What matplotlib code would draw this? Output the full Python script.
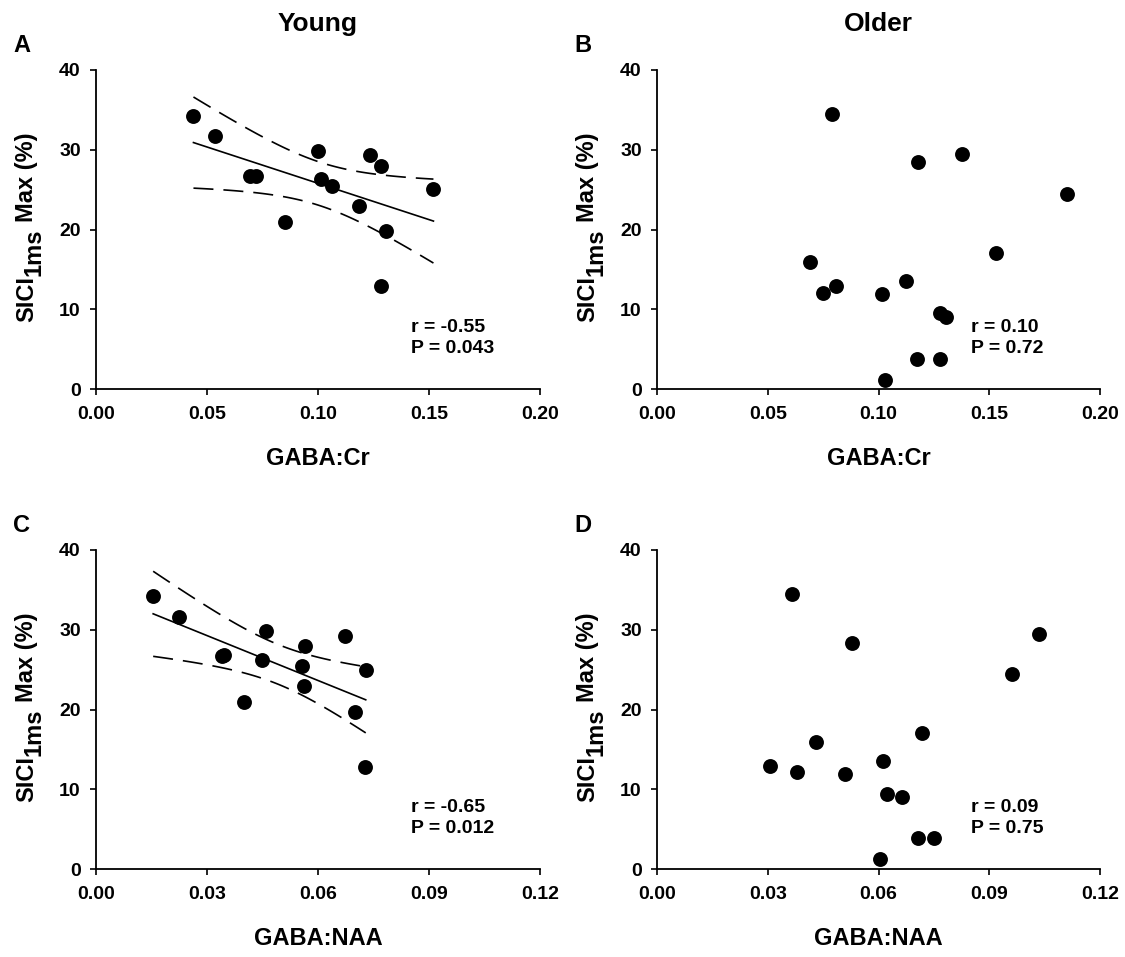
import numpy as np
import matplotlib
matplotlib.use("Agg")
import matplotlib.pyplot as plt

plt.rcParams['font.family'] = ['Liberation Sans', 'DejaVu Sans']
plt.rcParams['font.weight'] = 'bold'

# Panel A: Young, GABA:Cr
young_cr_x = [0.0439, 0.0536, 0.0692, 0.0719, 0.0853, 0.1002, 0.1014, 0.1062,
              0.1183, 0.1234, 0.1282, 0.1308, 0.1282, 0.1520]
young_cr_y = [34.2, 31.7, 26.75, 26.7, 21.0, 29.8, 26.3, 25.4,
              23.0, 29.3, 28.0, 19.8, 12.9, 25.1]
# Panel B: Older, GABA:Cr
older_cr_x = [0.0790, 0.0690, 0.0748, 0.0810, 0.1018, 0.1029, 0.1123, 0.1177,
              0.1174, 0.1279, 0.1279, 0.1306, 0.1376, 0.1529, 0.1852]
older_cr_y = [34.5, 15.9, 12.1, 12.9, 11.9, 1.1, 13.5, 28.5,
              3.8, 3.8, 9.5, 9.0, 29.5, 17.1, 24.5]
# Panel C: Young, GABA:NAA
young_naa_x = [0.01545, 0.0223, 0.0340, 0.0346, 0.0399, 0.0449, 0.0459, 0.0558,
               0.0565, 0.0563, 0.0673, 0.0700, 0.0729, 0.0727]
young_naa_y = [34.2, 31.6, 26.7, 26.8, 21.0, 26.2, 29.8, 25.4,
               27.9, 23.0, 29.25, 19.7, 25.0, 12.8]
# Panel D: Older, GABA:NAA
older_naa_x = [0.0367, 0.0307, 0.0379, 0.0431, 0.0509, 0.0528, 0.0611, 0.0603,
               0.0624, 0.0663, 0.0706, 0.0750, 0.0718, 0.0962, 0.1035]
older_naa_y = [34.5, 12.9, 12.2, 15.95, 11.95, 28.4, 13.5, 1.2,
               9.4, 9.0, 3.9, 3.9, 17.1, 24.5, 29.5]

r_text = ["r = -0.55", "r = 0.10", "r = -0.65", "r = 0.09"]
p_text = ["P = 0.043", "P = 0.72", "P = 0.012", "P = 0.75"]
panel_letters = ["A", "B", "C", "D"]
col_titles = ["Young", "Older"]
x_labels = ["GABA:Cr", "GABA:Cr", "GABA:NAA", "GABA:NAA"]
y_label_parts = ["SICI", "1ms", "Max (%)"]
xticks_cr = [0.00, 0.05, 0.10, 0.15, 0.20]
xticks_naa = [0.00, 0.03, 0.06, 0.09, 0.12]
yticks = [0, 10, 20, 30, 40]

W, H = 1125, 957
fig = plt.figure(figsize=(W / 100, H / 100), dpi=100)
renderer = fig.canvas.get_renderer()

# axes rectangles in pixels: left, right, top, bottom (top-based y)
rects = [
    (96, 540, 70, 389),
    (657, 1100, 70, 389),
    (96, 540, 550, 869),
    (657, 1100, 550, 869),
]
datasets = [
    (young_cr_x, young_cr_y, True, xticks_cr),
    (older_cr_x, older_cr_y, False, xticks_cr),
    (young_naa_x, young_naa_y, True, xticks_naa),
    (older_naa_x, older_naa_y, False, xticks_naa),
]


def fx(px):
    return px / W


def fy(py_top):
    return (H - py_top) / H


def text_width(s, fs):
    t = fig.text(0, 0, s, fontsize=fs, fontweight='bold')
    w = t.get_window_extent(renderer).width
    t.remove()
    return w


def fit_with_ci(x, y, n_pts=100):
    x = np.asarray(x)
    y = np.asarray(y)
    n = len(x)
    b, a = np.polyfit(x, y, 1)
    resid = y - (a + b * x)
    s = np.sqrt(np.sum(resid ** 2) / (n - 2))
    xs = np.linspace(x.min(), x.max(), n_pts)
    ys = a + b * xs
    sxx = np.sum((x - x.mean()) ** 2)
    t = 2.179  # t(0.975, df=12)
    half = t * s * np.sqrt(1.0 / n + (xs - x.mean()) ** 2 / sxx)
    return xs, ys, ys - half, ys + half


YL_FS = 17
w_main = text_width(y_label_parts[0], YL_FS)
w_sub = text_width(y_label_parts[1], YL_FS)
w_rest = text_width(y_label_parts[2], YL_FS)
w_space = text_width("a a", YL_FS) - text_width("aa", YL_FS)
total_len = w_main + w_sub + w_space + w_rest


def draw_ylabel(xb, center_top):
    # xb: baseline x in px; text reads bottom to top
    s0 = (H - center_top) - total_len / 2.0  # from-bottom px where text starts
    kw = dict(fontsize=YL_FS, fontweight='bold', rotation=90,
              rotation_mode='anchor', ha='left', va='baseline')
    fig.text(xb / W, s0 / H, y_label_parts[0], **kw)
    fig.text((xb + 8) / W, (s0 + w_main) / H, y_label_parts[1], **kw)
    fig.text(xb / W, (s0 + w_main + w_sub + w_space) / H, y_label_parts[2], **kw)


for i, ((l, r, t, b), (xd, yd, reg, xt)) in enumerate(zip(rects, datasets)):
    ax = fig.add_axes([fx(l), fy(b), (r - l) / W, (b - t) / H])
    ax.scatter(xd, yd, s=115, color='black', zorder=3, linewidths=0,
               clip_on=False)
    if reg:
        xs, ys, lo, hi = fit_with_ci(xd, yd)
        ax.plot(xs, ys, color='black', lw=1.2)
        ax.plot(xs, lo, color='black', lw=1.2, dashes=(12, 6))
        ax.plot(xs, hi, color='black', lw=1.2, dashes=(12, 6))
    ax.set_xlim(xt[0], xt[-1])
    ax.set_ylim(0, 40)
    ax.set_xticks(xt)
    ax.set_xticklabels([f"{v:.2f}" for v in xt])
    ax.set_yticks(yticks)
    for sp in ['top', 'right']:
        ax.spines[sp].set_visible(False)
    for sp in ['left', 'bottom']:
        ax.spines[sp].set_linewidth(1.3)
    ax.tick_params(direction='out', length=4, width=1.2, labelsize=14)
    ax.tick_params(axis='x', pad=8.5)
    ax.tick_params(axis='y', pad=7)
    for lab in ax.get_xticklabels() + ax.get_yticklabels():
        lab.set_fontweight('bold')
    # stats text
    x_txt = xt[-1] * 0.709
    ax.text(x_txt, 7.15, r_text[i], fontsize=14, fontweight='bold',
            ha='left', va='baseline')
    ax.text(x_txt, 4.51, p_text[i], fontsize=14, fontweight='bold',
            ha='left', va='baseline')
    # x label
    fig.text(fx((l + r) / 2), fy(b + 76), x_labels[i], fontsize=17,
             fontweight='bold', ha='center', va='baseline')
    # y label
    draw_ylabel(l - 63, (t + b) / 2 - 2)
    # panel letter
    fig.text(fx(l - 83), fy(t - 24), panel_letters[i], fontsize=17,
             fontweight='bold', ha='left', va='center')
    if i < 2:
        fig.text(fx((l + r) / 2), fy(31), col_titles[i], fontsize=19,
                 fontweight='bold', ha='center', va='baseline')

fig.savefig("out.png", dpi=100)
